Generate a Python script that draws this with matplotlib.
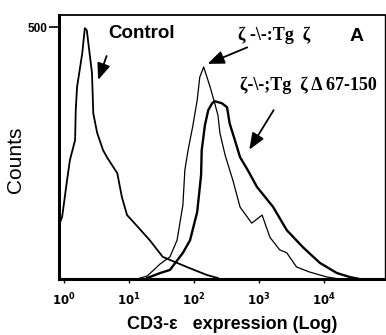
import numpy as np
import matplotlib
matplotlib.use("Agg")
import matplotlib.pyplot as plt

# log10 of CD3-epsilon expression, and cell counts
control_log = [-0.077, -0.07, -0.03, 0.046, 0.09, 0.17, 0.18, 0.2, 0.28, 0.32, 0.35,
               0.43, 0.45, 0.51, 0.6, 0.66, 0.82, 0.89, 0.97, 1.14, 1.32, 1.52,
               1.89, 2.2, 2.37]
control_counts = [0, 110, 123, 196, 236, 276, 335, 381, 448, 498, 494,
                  409, 329, 290, 256, 242, 210, 163, 127, 103, 77, 44,
                  24, 8, 2]

tgz_log = [1.12, 1.28, 1.48, 1.63, 1.74, 1.83, 1.86, 1.91, 1.98, 2.05, 2.09, 2.15,
           2.25, 2.32, 2.37, 2.4, 2.48, 2.6, 2.71, 2.89, 3.05, 3.17, 3.32, 3.43,
           3.58, 3.78, 4.05, 4.25]
tgz_counts = [0, 6, 30, 44, 77, 147, 216, 256, 302, 355, 401, 421,
              381, 349, 325, 290, 246, 196, 143, 111, 127, 83, 58, 52,
              24, 14, 4, 0]

delta_log = [1.28, 1.48, 1.63, 1.83, 1.94, 2.05, 2.11, 2.12, 2.17, 2.22, 2.28, 2.32,
             2.43, 2.51, 2.55, 2.63, 2.71, 2.83, 2.97, 3.22, 3.43, 3.68, 3.94,
             4.2, 4.4, 4.55]
delta_counts = [2, 12, 18, 52, 77, 133, 206, 256, 306, 335, 349, 353,
                349, 341, 309, 276, 242, 216, 183, 143, 97, 63, 32,
                12, 4, 0]

xticks = [1, 10, 100, 1000, 10000]
xtick_labels = [r"$\mathbf{10^{%d}}$" % i for i in range(5)]

fig = plt.figure(figsize=(3.86, 3.35), dpi=100)
ax = fig.add_axes([0.153, 0.167, 0.844, 0.788])

ax.plot(10 ** np.array(control_log), control_counts, color="black", lw=1.3)
ax.plot(10 ** np.array(tgz_log), tgz_counts, color="black", lw=0.9)
ax.plot(10 ** np.array(delta_log), delta_counts, color="black", lw=1.7)

ax.set_xscale("log")
ax.set_xlim(10 ** -0.077, 10 ** 4.94)
ax.set_ylim(0, 524)

ax.set_xticks(xticks)
ax.set_xticklabels(xtick_labels, fontsize=8.5)
ax.minorticks_off()
ax.set_yticks([500])
ax.set_yticklabels(["500"], fontsize=8.5, fontweight="bold", family="Liberation Sans")
ax.tick_params(axis="x", length=3, width=1, pad=6)
ax.tick_params(axis="y", length=7, width=1.2, pad=1)

ax.spines["left"].set_linewidth(2.2)
ax.spines["bottom"].set_linewidth(2.2)
ax.spines["top"].set_linewidth(1.3)
ax.spines["right"].set_linewidth(1.0)

ax.set_ylabel("Counts", fontsize=15, family="Liberation Sans")
ax.yaxis.set_label_coords(-0.105, 0.45)
ax.set_xlabel("CD3-\u03b5   expression (Log)", fontsize=13, fontweight="bold",
              family="Liberation Sans")
ax.xaxis.set_label_coords(0.53, -0.14)

# annotations
arrow = dict(arrowstyle="-|>,head_width=0.4,head_length=1.0", color="black", lw=1.3)
ax.text(10 ** 1.19, 488, "Control", ha="center", va="center", fontsize=13.5,
        fontweight="bold", family="Liberation Sans")
ax.annotate("", xy=(10 ** 0.51, 390), xytext=(10 ** 0.67, 448), arrowprops=arrow)
ax.annotate("", xy=(10 ** 2.17, 425), xytext=(10 ** 2.86, 462), arrowprops=arrow)
ax.annotate("", xy=(10 ** 2.83, 252), xytext=(10 ** 3.25, 340), arrowprops=arrow)
ax.text(10 ** 3.23, 484, "\u03b6 -\\-:Tg  \u03b6", ha="center", va="center",
        fontsize=13, fontweight="bold", family="Liberation Serif")
ax.text(10 ** 3.76, 385, "\u03b6-\\-;Tg  \u03b6 \u0394 67-150", ha="center", va="center",
        fontsize=13, fontweight="bold", family="Liberation Serif")
ax.text(10 ** 4.51, 482, "A", ha="center", va="center", fontsize=14,
        fontweight="bold", family="Liberation Sans")

fig.savefig("out.png", dpi=100)
